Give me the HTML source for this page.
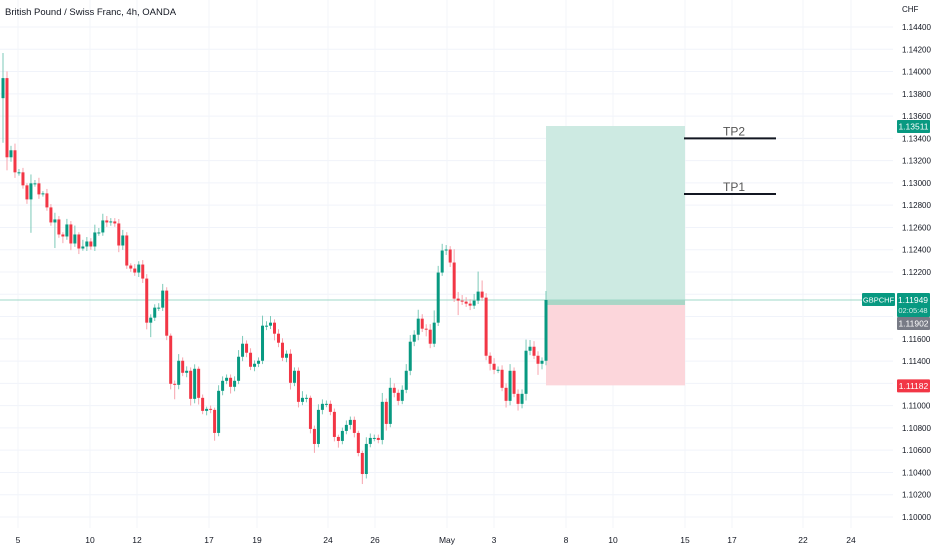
<!DOCTYPE html>
<html><head><meta charset="utf-8"><style>
html,body{margin:0;padding:0;background:#fff;width:932px;height:550px;overflow:hidden;font-family:"Liberation Sans",sans-serif}
svg text{font-family:"Liberation Sans",sans-serif}
</style></head><body>
<svg id="chart" width="932" height="550" viewBox="0 0 932 550">
<g id="grid"></g>
<g id="zones"></g>
<g id="candles"></g>
<g id="axis"></g>
<g id="xaxis"></g>
<text x="5" y="15" font-size="9.5" fill="#131722">British Pound / Swiss Franc, 4h, OANDA</text>
<text x="902" y="12" font-size="8" fill="#131722">CHF</text>
</svg>
<script>
const priceTicks=[1.144,1.142,1.140,1.138,1.136,1.134,1.132,1.130,1.128,1.126,1.124,1.122,1.120,1.118,1.116,1.114,1.112,1.110,1.108,1.106,1.104,1.102,1.100];
const hiddenTicks=[1.120,1.118,1.112];
const dateLabels=["5","10","12","17","19","24","26","May","3","8","10","15","17","22","24"];
const datePos=[18,90,137,209,257,328,375,447,494,566,613,685,732,803,851];
const firstOpen=113761;
const closes=[113941,113230,113293,113095,113095,112978,112852,112996,112996,112897,112906,112780,112645,112672,112537,112519,112627,112456,112537,112411,112429,112474,112429,112555,112555,112663,112645,112654,112636,112438,112528,112258,112231,112195,112267,112141,111745,111790,111880,111880,112033,111628,111196,111187,111403,111295,111313,111061,111331,111070,110953,110971,110962,110755,111133,111223,111250,111169,111223,111439,111556,111475,111349,111376,111403,111718,111718,111745,111646,111565,111430,111466,111205,111313,111034,111070,111070,110791,110656,110962,111016,111016,110944,110719,110683,110773,110827,110872,110755,110575,110386,110656,110710,110710,110692,111034,110836,111160,111115,111043,111142,111313,111574,111637,111781,111691,111682,111556,111745,112195,112393,112402,112285,111961,111943,111934,111916,111898,111943,112024,111970,111448,111376,111322,111322,111160,111043,111313,111106,111016,111106,111493,111529,111448,111376,111403,111949];
const wickUp=[225,60,40,60,30,40,20,80,30,50,20,40,30,60,30,20,50,30,80,20,60,40,30,70,40,60,40,30,30,40,50,30,20,40,30,40,40,30,30,40,60,30,20,30,60,30,40,30,40,20,30,20,30,20,50,40,30,30,40,60,70,30,40,30,30,90,40,60,30,40,40,30,40,30,30,60,30,20,30,50,40,30,30,30,20,30,40,30,30,20,20,60,40,30,30,80,30,90,40,30,40,60,60,40,80,40,40,50,110,60,60,40,30,120,60,50,40,40,60,180,100,40,30,50,30,40,40,60,30,40,40,100,60,50,40,30,80];
const wickDn=[400,117,40,50,30,30,40,300,30,40,20,30,30,230,30,60,30,60,30,50,20,40,30,40,30,30,40,30,30,60,40,30,30,30,40,40,60,130,30,30,30,40,50,130,40,30,40,60,40,60,30,40,30,70,30,40,30,60,40,30,40,40,30,40,30,30,40,30,60,40,30,40,60,30,50,30,40,40,80,30,40,30,30,40,60,30,30,40,40,30,90,40,30,30,30,40,60,30,40,40,30,30,40,40,50,30,60,40,30,30,30,40,40,30,130,30,30,40,30,30,30,40,60,40,30,30,60,40,30,60,40,60,40,30,100,50,40];
const entry=1.11949, stopP=1.11182, targetP=1.13511, tp1=1.12900, tp2=1.13400;
const lastP=1.11949, prevClose=1.11902;

const NS="http://www.w3.org/2000/svg";
function mk(t,a,p){const e=document.createElementNS(NS,t);for(const k in a)e.setAttribute(k,a[k]);p.appendChild(e);return e;}
const yTop=27,pxPer=490/0.044;
function yS(p){return yTop+(1.144-p)*pxPer;}
const x0=3,x1=546;
function xS(i){return x0+i*(x1-x0)/(closes.length-1);}
const grid=document.getElementById('grid');
priceTicks.forEach(p=>{const l=mk('line',{x1:0,x2:893,y1:yS(p),y2:yS(p),stroke:'#f0f3fa','stroke-width':1},grid);});
datePos.forEach(x=>{const l=mk('line',{x1:x,x2:x,y1:0,y2:528,stroke:'#f3f5fa','stroke-width':1},grid);});
const z=document.getElementById('zones');
let r=mk('rect',{x:546,y:yS(targetP),width:139,height:yS(entry)-yS(targetP),fill:'#cdeae2'},z);

r=mk('rect',{x:546,y:yS(entry)+4,width:139,height:yS(stopP)-yS(entry)-4,fill:'#fcd6db'},z);

r=mk('rect',{x:546,y:yS(entry),width:139,height:5,fill:'#a9d6c6'},z);

let l=mk('line',{x1:0,x2:893,y1:yS(lastP),y2:yS(lastP),stroke:'#9fd8c8','stroke-width':1},z);

[[tp2,'TP2'],[tp1,'TP1']].forEach(([p,t])=>{const ln=mk('line',{x1:684,x2:776,y1:yS(p),y2:yS(p),stroke:'#131722','stroke-width':2},z);
const tx=mk('text',{x:723,y:yS(p)-3,'font-size':12,fill:'#555'},z);tx.textContent=t;});
const cg=document.getElementById('candles');
let o=firstOpen;
closes.forEach((c,i)=>{const up=c>=o;const col=up?'#089981':'#f23645';const wc=up?'#7cc9b8':'#f7a4ad';
const hi=(Math.max(o,c)+wickUp[i])/1e5,lo=(Math.min(o,c)-wickDn[i])/1e5;const x=xS(i);
const w=mk('line',{x1:x,x2:x,y1:yS(hi),y2:yS(lo),stroke:wc,'stroke-width':1},cg);
const t=yS(Math.max(o,c)/1e5),b=yS(Math.min(o,c)/1e5);
const bd=mk('rect',{x:x-1.5,y:t,width:3,height:Math.max(1,b-t),fill:col},cg);
o=c;});
const ax=document.getElementById('axis');
priceTicks.forEach(p=>{if(hiddenTicks.some(h=>Math.abs(h-p)<1e-9))return;const t=mk('text',{x:902,y:yS(p)+3,'font-size':8,fill:'#131722'},ax);t.textContent=p.toFixed(5);});
function tag(x,y,w,h,fill,txt,name,fs){const g=mk('g',{},ax);
mk('rect',{x:x,y:y,width:w,height:h,fill:fill,rx:1},g);const t=mk('text',{x:x+w/2,y:y+h/2+3,'font-size':fs||8.5,fill:'#fff','text-anchor':'middle'},g);t.textContent=txt;return g;}
tag(897,yS(targetP)-6,33,13,'#089981',targetP.toFixed(5),'target-price-tag');
tag(897,yS(stopP)-6,33,13,'#f23645',stopP.toFixed(5),'stop-price-tag');
tag(862,yS(lastP)-7,33,13,'#089981','GBPCHF','symbol-tag',7.5);
const g=tag(897,yS(lastP)-7,33,24,'#089981','','last-price-tag');
let t=mk('text',{x:913,y:yS(lastP)+3,'font-size':8.5,fill:'#fff','text-anchor':'middle'},g);t.textContent=lastP.toFixed(5);
t=mk('text',{x:913,y:yS(lastP)+13,'font-size':7.5,fill:'#d8f0ea','text-anchor':'middle'},g);t.textContent='02:05:48';
tag(897,yS(lastP)+17,33,13,'#787b86',prevClose.toFixed(5),'prev-close-tag');
const xa=document.getElementById('xaxis');
dateLabels.forEach((s,i)=>{const t=mk('text',{x:datePos[i],y:543,'font-size':8.5,fill:'#131722','text-anchor':'middle'},xa);t.textContent=s;});
</script>
</body></html>
